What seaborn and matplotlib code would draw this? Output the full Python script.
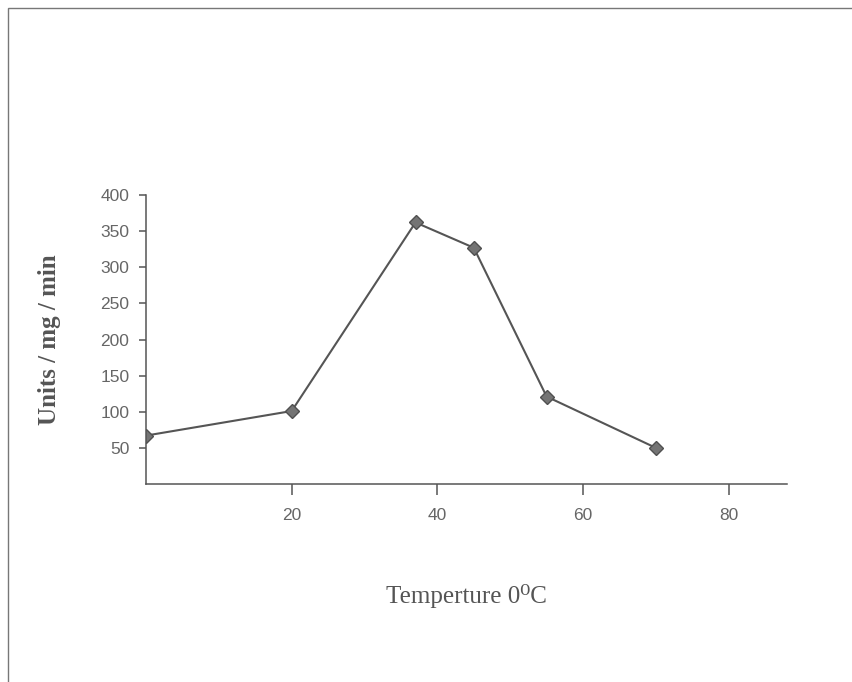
import numpy as np
import pandas as pd
import seaborn as sns
import matplotlib.pyplot as plt
from matplotlib.patches import Rectangle

# ---------------------------------------------#
# Data
# ---------------------------------------------#
temperature = [0, 20, 37, 45, 55, 70]
activity = [67, 101, 362, 327, 121, 50]

x_ticks = [20, 40, 60, 80]
y_ticks = [50, 100, 150, 200, 250, 300, 350, 400]

df = pd.DataFrame({"temp": temperature, "units": activity})

# ---------------------------------------------#
# Plot
# ---------------------------------------------#
sns.set_style("ticks")
plt.rcParams["font.family"] = ["Liberation Sans", "DejaVu Sans"]

fig = plt.figure(figsize=(8.52, 6.82), dpi=100)
ax = fig.add_axes([146 / 852, 1 - 484 / 682, (787 - 146) / 852, (484 - 195) / 682])

line_col = "#555555"
sns.lineplot(data=df, x="temp", y="units", ax=ax, color=line_col, linewidth=1.5,
             marker="D", markersize=7.5, markerfacecolor="#747474",
             markeredgecolor="#505050", markeredgewidth=1.0, estimator=None)

ax.set_xlim(0, 88)
ax.set_ylim(0, 400)
ax.set_xticks(x_ticks)
ax.set_yticks(y_ticks)
ax.tick_params(axis="x", length=8, width=1.1, color="#555555", labelsize=12.5,
               labelcolor="#666666", pad=9)
ax.tick_params(axis="y", length=5, width=1.1, color="#555555", labelsize=12.5,
               labelcolor="#666666", pad=7)

sns.despine(ax=ax)
for s in ["left", "bottom"]:
    ax.spines[s].set_color("#555555")
    ax.spines[s].set_linewidth(1.1)

ax.set_xlabel("")
ax.set_ylabel("")

fig.text(50 / 852, 1 - 340 / 682, "Units / mg / min", rotation=90,
         ha="center", va="center", fontsize=18, fontweight="bold",
         color="#555555", family=["Liberation Serif", "DejaVu Serif"])
fig.text(466 / 852, 1 - 603 / 682, "Temperture 0\u2070C",
         ha="center", va="baseline", fontsize=18,
         color="#555555", family=["Liberation Serif", "DejaVu Serif"])

# scanned page frame
fig.patches.append(Rectangle((8 / 852, -0.1), 1.2, 1 - 8 / 682 + 0.1,
                             transform=fig.transFigure, fill=False,
                             edgecolor="#777777", linewidth=1.0))

fig.savefig("out.png", dpi=100)
